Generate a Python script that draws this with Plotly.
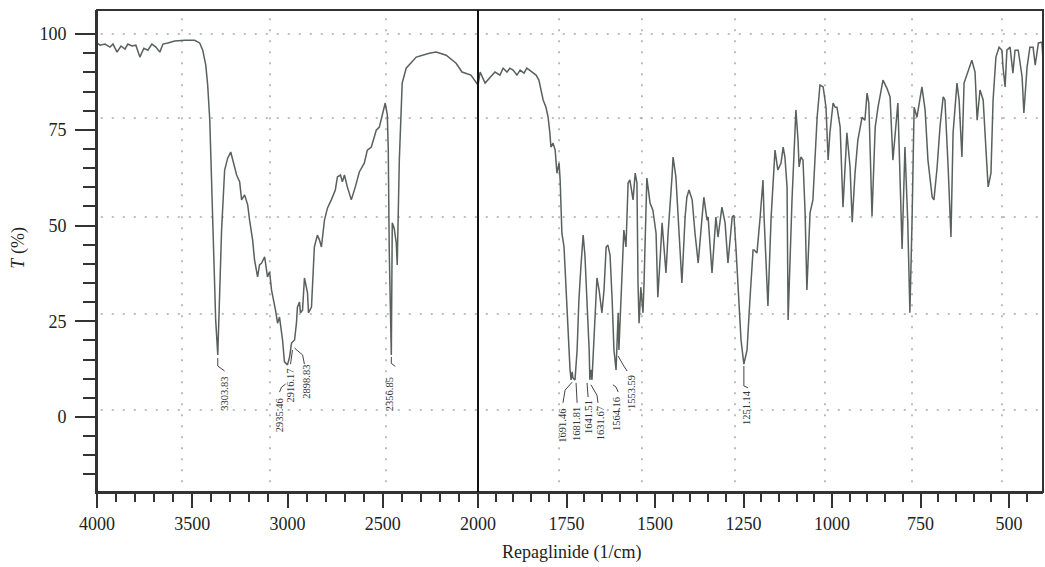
import plotly.graph_objects as go

# ---------------- data ----------------
# 4000-2000 cm-1 segment
wn_left = [4000, 3984, 3958, 3932, 3916, 3895, 3874, 3853, 3838, 3817, 3796, 3775, 3754, 3733,
           3712, 3691, 3670, 3654, 3628, 3592, 3539, 3487, 3461, 3445, 3429, 3419, 3408, 3398,
           3387, 3377, 3366, 3356, 3346, 3330, 3314, 3298, 3283, 3267, 3251, 3241, 3225, 3209,
           3199, 3183, 3173, 3157, 3147, 3136, 3120, 3105, 3094, 3084, 3063, 3052, 3042, 3026,
           3016, 3000, 2989, 2979, 2963, 2953, 2948, 2937, 2932, 2921, 2911, 2895, 2890, 2874,
           2859, 2843, 2832, 2822, 2806, 2790, 2770, 2749, 2738, 2722, 2712, 2701, 2686, 2665,
           2644, 2623, 2597, 2581, 2560, 2534, 2518, 2508, 2487, 2476, 2471, 2466, 2461, 2455,
           2450, 2440, 2429, 2424, 2413, 2398, 2377, 2324, 2256, 2220, 2167, 2115, 2084, 2037,
           2000]
t_left = [97.7, 97.1, 97.4, 96.6, 97.4, 95.3, 96.9, 96.1, 97.4, 96.9, 97.1, 94.0, 96.3, 95.8,
          97.4, 96.6, 95.3, 97.4, 97.7, 98.2, 98.4, 98.4, 97.7, 95.8, 91.9, 86.7, 77.5, 61.9,
          43.6, 25.3, 16.2, 30.5, 48.8, 64.5, 67.6, 69.2, 66.6, 63.2, 61.4, 56.7, 58.0, 55.4,
          51.4, 46.2, 41.0, 36.6, 39.7, 40.2, 41.8, 36.6, 37.9, 33.2, 27.9, 24.5, 26.1, 20.1,
          14.4, 13.6, 15.7, 19.3, 20.1, 24.5, 28.7, 30.0, 27.2, 27.9, 36.3, 32.4, 27.2, 28.7,
          44.4, 47.5, 46.2, 44.4, 51.4, 54.6, 56.7, 59.3, 62.7, 63.2, 61.4, 63.2, 60.1, 56.7,
          60.1, 64.0, 66.3, 69.7, 70.5, 74.9, 75.7, 77.5, 82.0, 78.9, 69.7, 43.6, 25.3, 16.2,
          50.7, 49.3, 45.4, 39.7, 67.1, 87.2, 91.1, 94.0, 95.0, 95.3, 94.5, 92.4, 90.1, 89.3,
          86.7]

# 2000-400 cm-1 segment
wn_right = [2000, 1994, 1980, 1966, 1952, 1938, 1929, 1918, 1910, 1901, 1890, 1881, 1870, 1862,
            1847, 1836, 1828, 1822, 1816, 1808, 1802, 1797, 1794, 1788, 1782, 1777, 1771, 1768,
            1766, 1763, 1757, 1751, 1746, 1740, 1737, 1734, 1732, 1726, 1720, 1715, 1709, 1703,
            1698, 1692, 1686, 1684, 1681, 1678, 1672, 1664, 1658, 1650, 1644, 1638, 1633, 1627,
            1621, 1616, 1610, 1607, 1604, 1602, 1596, 1590, 1588, 1582, 1576, 1571, 1562, 1556,
            1551, 1548, 1545, 1540, 1534, 1531, 1525, 1523, 1514, 1506, 1497, 1492, 1483, 1480,
            1469, 1463, 1452, 1449, 1441, 1429, 1424, 1415, 1410, 1404, 1395, 1387, 1378, 1367,
            1362, 1353, 1350, 1339, 1328, 1322, 1311, 1302, 1294, 1282, 1277, 1271, 1263, 1257,
            1249, 1240, 1232, 1223, 1220, 1212, 1203, 1195, 1192, 1181, 1172, 1161, 1153, 1144,
            1138, 1133, 1127, 1124, 1113, 1102, 1096, 1093, 1088, 1082, 1076, 1071, 1062, 1054,
            1042, 1034, 1025, 1017, 1011, 1006, 997, 991, 986, 977, 969, 958, 949, 943,
            935, 927, 915, 907, 901, 896, 887, 878, 870, 856, 845, 836, 828, 816,
            814, 802, 794, 786, 780, 774, 768, 760, 754, 746, 737, 729, 717, 712,
            703, 695, 686, 681, 672, 664, 658, 647, 641, 633, 627, 616, 605, 596,
            590, 582, 573, 565, 559, 551, 545, 537, 528, 520, 517, 511, 506, 497,
            489, 483, 474, 463, 458, 449, 441, 432, 426, 417, 407, 404]
t_right = [86.7, 90.1, 87.2, 88.8, 90.1, 89.3, 91.1, 90.1, 91.1, 90.6, 89.3, 90.6, 89.8, 91.1,
           90.1, 89.3, 88.0, 85.4, 82.8, 80.9, 78.3, 74.2, 70.5, 71.5, 69.7, 63.7, 66.3, 61.9,
           56.7, 48.0, 44.4, 33.2, 20.1, 12.3, 9.7, 11.8, 10.2, 9.7, 17.5, 30.5, 39.7, 47.5,
           42.3, 30.5, 17.5, 9.7, 12.3, 9.7, 20.1, 36.3, 33.2, 27.2, 33.2, 44.4, 44.9, 42.3,
           30.5, 17.5, 12.3, 18.8, 27.2, 17.5, 30.5, 48.0, 48.8, 44.4, 61.1, 61.9, 56.7, 63.7,
           61.1, 35.0, 24.5, 33.9, 27.2, 35.0, 56.7, 62.4, 55.9, 54.0, 48.0, 31.3, 45.4, 50.7,
           37.6, 48.0, 62.7, 67.9, 62.7, 43.6, 35.0, 52.2, 57.4, 59.3, 56.7, 48.0, 40.2, 52.2,
           57.4, 51.4, 52.2, 37.6, 52.2, 47.0, 54.8, 50.7, 40.2, 52.2, 52.7, 43.6, 30.5, 20.1,
           13.8, 17.5, 30.5, 43.6, 43.6, 42.8, 52.2, 61.9, 52.5, 29.0, 52.2, 69.7, 64.5, 66.3,
           70.5, 67.9, 60.1, 25.3, 56.7, 80.2, 72.3, 65.3, 67.9, 67.1, 53.3, 33.2, 53.3, 56.7,
           78.3, 86.7, 86.2, 80.9, 67.1, 74.2, 82.0, 80.9, 80.9, 75.7, 54.8, 74.2, 65.3, 50.9,
           63.7, 72.3, 78.3, 77.5, 84.6, 82.0, 52.5, 75.7, 80.9, 88.0, 85.9, 83.6, 67.1, 80.9,
           82.0, 43.9, 70.5, 50.9, 27.2, 50.9, 80.9, 78.3, 82.0, 86.2, 80.2, 67.1, 57.4, 56.7,
           65.3, 75.7, 83.6, 82.8, 65.3, 47.0, 74.2, 87.2, 82.8, 67.9, 87.2, 90.1, 93.2, 90.1,
           77.5, 85.4, 82.8, 69.7, 60.1, 63.7, 82.8, 94.0, 96.6, 95.8, 91.4, 86.2, 95.8, 96.6,
           89.8, 95.8, 95.8, 88.8, 79.4, 91.4, 96.6, 96.6, 91.9, 97.7, 97.9, 93.2]

# peak labels (text) and the axis segment they belong to
peak_labels_left = ["3303.83", "2935.46", "2916.17", "2898.83", "2356.85"]
peak_labels_right = ["1691.46", "1681.81", "1641.51", "1631.67", "1564.16", "1553.59", "1251.14"]

y_ticks = [0, 25, 50, 75, 100]
x_ticks_left = [4000, 3500, 3000, 2500, 2000]
x_ticks_right = [1750, 1500, 1250, 1000, 750, 500]

# ---------------- layout constants ----------------
FONT = "Liberation Serif"
AX = "#333333"
LINE = "#58615c"
split = 381 / 946

# label placement (centre of rotated text) and leader paths, in data units
label_pos_left = [(3330, 6.0), (3042, 0.3), (2984, 8.1), (2900, 9.1), (2461, 6.0)]
leader_left = [
    [(3366, 15.4), (3366, 13.3), (3330, 12.0)],
    [(3010, 8.6), (3031, 7.8), (3042, 6.5)],
    [(2974, 17.5), (2984, 13.8)],
    [(2963, 18.0), (2921, 16.2), (2911, 13.8)],
    [(2455, 15.7), (2455, 14.0), (2434, 13.2)],
]
label_pos_right = [(1760, -2.3), (1720, -1.8), (1686, 0.0), (1655, -1.6), (1607, 0.8),
                   (1568, 6.5), (1243, 2.6)]
leader_right = [
    [(1734, 9.1), (1754, 7.0), (1760, 3.7)],
    [(1723, 8.9), (1720, 3.7)],
    [(1692, 8.9), (1689, 5.2)],
    [(1681, 8.4), (1664, 5.7), (1661, 3.7)],
    [(1619, 8.4), (1610, 7.8), (1604, 6.5)],
    [(1604, 15.9), (1590, 13.6), (1579, 12.0)],
    [(1249, 13.3), (1249, 8.1), (1237, 7.6)],
]

fig = go.Figure()
fig.add_trace(go.Scatter(x=wn_left, y=t_left, mode="lines", xaxis="x", yaxis="y",
                         line=dict(color=LINE, width=1.5), showlegend=False, hoverinfo="skip"))
fig.add_trace(go.Scatter(x=wn_right, y=t_right, mode="lines", xaxis="x2", yaxis="y",
                         line=dict(color=LINE, width=1.5), showlegend=False, hoverinfo="skip"))

shapes = []
grid_style = dict(color="#a8a8a8", width=1.5, dash="2px,9px")
# dotted grid (positions as drawn in the original)
for gx in [3554, 3092, 2483]:
    shapes.append(dict(type="line", xref="x", yref="paper", x0=gx, x1=gx, y0=0.02, y1=0.996,
                       line=grid_style, layer="below"))
for gx in [1771, 1537, 1274, 1020, 774, 520]:
    shapes.append(dict(type="line", xref="x2", yref="paper", x0=gx, x1=gx, y0=0.02, y1=0.996,
                       line=grid_style, layer="below"))
for gy in [100, 78.1, 52.2, 26.9, 1.8]:
    shapes.append(dict(type="line", xref="paper", yref="y", x0=0.004, x1=0.996, y0=gy, y1=gy,
                       line=grid_style, layer="below"))

# frame and 2000 divider (at the boundary of the two axis segments)
shapes.append(dict(type="rect", xref="paper", yref="paper", x0=0, x1=1, y0=0, y1=1,
                   line=dict(color=AX, width=2), layer="above"))
shapes.append(dict(type="line", xref="paper", yref="paper", x0=split, x1=split, y0=0, y1=1,
                   line=dict(color="#111111", width=2), layer="above"))


def path_of(pts):
    return "M " + " L ".join(f"{a} {b}" for a, b in pts)


for pts in leader_left:
    shapes.append(dict(type="path", xref="x", yref="y", path=path_of(pts),
                       line=dict(color="#444", width=1)))
for pts in leader_right:
    shapes.append(dict(type="path", xref="x2", yref="y", path=path_of(pts),
                       line=dict(color="#444", width=1)))

annotations = []
lab_font = dict(family=FONT, size=10.5, color="#333")
for txt, (lx, ly) in zip(peak_labels_left, label_pos_left):
    annotations.append(dict(text=txt, x=lx, y=ly, xref="x", yref="y", showarrow=False,
                            textangle=-90, font=lab_font, xanchor="center", yanchor="middle"))
for txt, (lx, ly) in zip(peak_labels_right, label_pos_right):
    annotations.append(dict(text=txt, x=lx, y=ly, xref="x2", yref="y", showarrow=False,
                            textangle=-90, font=lab_font, xanchor="center", yanchor="middle"))

annotations.append(dict(text="<i>T</i> (%)", xref="paper", yref="paper", x=-0.083, y=0.508,
                        showarrow=False, textangle=-90, xanchor="center", yanchor="middle",
                        font=dict(family=FONT, size=18, color="#222")))
annotations.append(dict(text="Repaglinide (1/cm)", xref="paper", yref="paper", x=0.502, y=-0.1245,
                        showarrow=False, xanchor="center", yanchor="middle",
                        font=dict(family=FONT, size=18, color="#222")))

tickfont = dict(family=FONT, size=18, color="#222")
common_x = dict(ticks="outside", ticklen=14, tickwidth=2, tickcolor=AX, showline=True,
                linewidth=2, linecolor=AX, showgrid=False, zeroline=False, tickfont=tickfont,
                anchor="y", fixedrange=True, automargin=False)

fig.update_layout(
    width=1045, height=567,
    margin=dict(l=97, r=2, t=10, b=75, autoexpand=False),
    paper_bgcolor="white", plot_bgcolor="white",
    xaxis=dict(domain=[0, split], range=[4000, 2000], tickmode="array", tickvals=x_ticks_left,
               ticktext=[str(v) for v in x_ticks_left],
               minor=dict(ticks="outside", ticklen=8, tickwidth=2, tickcolor=AX,
                          tickmode="linear", tick0=0, dtick=100, showgrid=False),
               **common_x),
    xaxis2=dict(domain=[split, 1], range=[2000, 404], tickmode="array", tickvals=x_ticks_right,
                ticktext=[str(v) for v in x_ticks_right],
                minor=dict(ticks="outside", ticklen=8, tickwidth=2, tickcolor=AX,
                           tickmode="linear", tick0=0, dtick=50, showgrid=False),
                **common_x),
    yaxis=dict(range=[-19.6, 106.3], tickmode="array", tickvals=y_ticks,
               ticktext=[str(v) for v in y_ticks], ticks="outside", ticklen=20, tickwidth=2,
               tickcolor=AX, showline=True, linewidth=2, linecolor=AX, showgrid=False,
               zeroline=False, tickfont=tickfont, anchor="x", fixedrange=True, automargin=False,
               ticklabelstandoff=5,
               minor=dict(ticks="outside", ticklen=12, tickwidth=2, tickcolor=AX,
                          tickmode="array",
                          tickvals=[-15, -10, -5, 5, 10, 15, 20, 30, 35, 40, 45, 55, 60, 65, 70,
                                    80, 85, 90, 95],
                          showgrid=False)),
    shapes=shapes,
    annotations=annotations,
)

fig.write_html("out.html")
